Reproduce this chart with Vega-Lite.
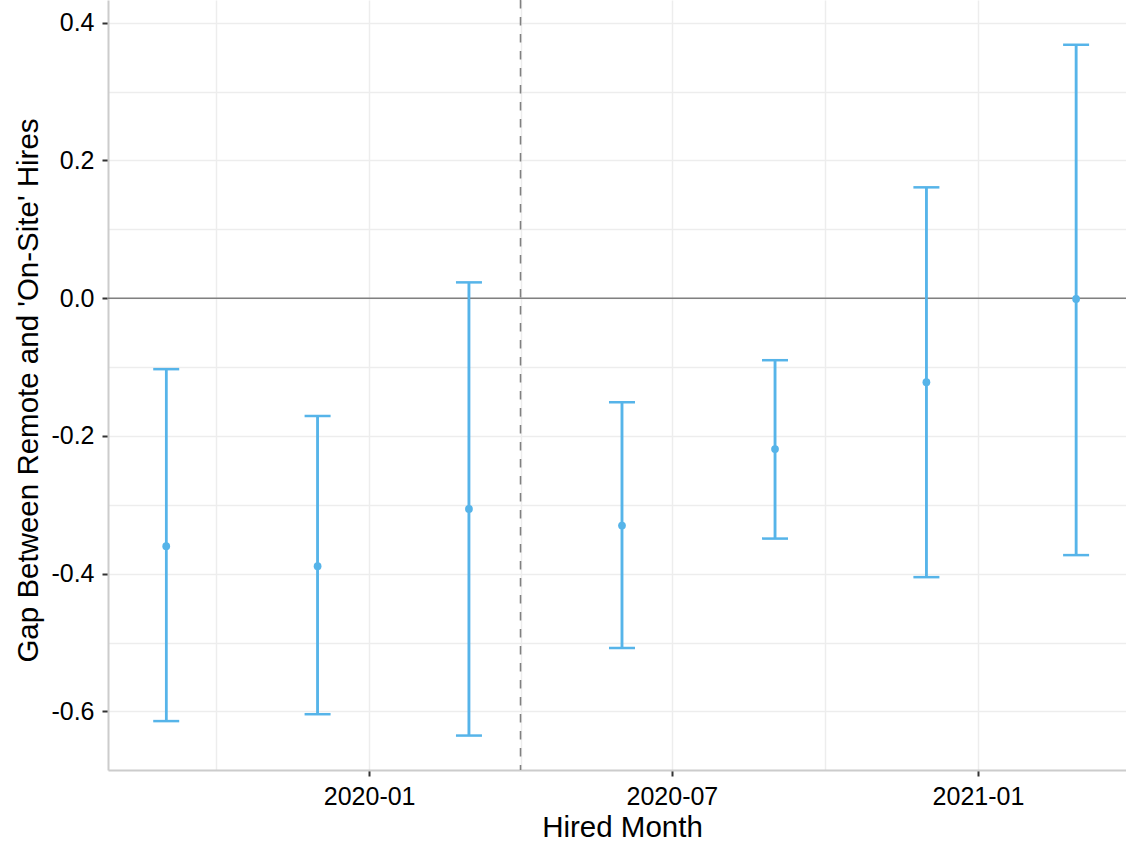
{
  "$schema": "https://vega.github.io/schema/vega-lite/v6.json",
  "width": 1018,
  "height": 770,
  "autosize": {"type": "none"},
  "padding": {"left": 108, "top": 0, "right": 0, "bottom": 71},
  "background": "white",
  "config": {"view": {"stroke": null}, "font": "Liberation Sans"},
  "datasets": {
    "est": [
      {"date": "2019-09-01", "est": -0.360, "lo": -0.614, "hi": -0.103},
      {"date": "2019-12-01", "est": -0.389, "lo": -0.604, "hi": -0.171},
      {"date": "2020-03-01", "est": -0.306, "lo": -0.635, "hi": 0.023},
      {"date": "2020-06-01", "est": -0.330, "lo": -0.508, "hi": -0.151},
      {"date": "2020-09-01", "est": -0.219, "lo": -0.349, "hi": -0.090},
      {"date": "2020-12-01", "est": -0.122, "lo": -0.405, "hi": 0.161},
      {"date": "2021-03-01", "est": -0.001, "lo": -0.373, "hi": 0.368}
    ],
    "refy": [{"est": 0}],
    "refx": [{"date": "2020-04-01"}]
  },
  "layer": [
    {
      "data": {"name": "est"},
      "mark": {"type": "rule", "color": "#56B4E9", "strokeWidth": 2.5},
      "encoding": {
        "x": {
          "field": "date", "type": "temporal", "title": "Hired Month",
          "scale": {"type": "utc", "domain": [{"year": 2019, "month": 7, "date": 28, "utc": true}, {"year": 2021, "month": 3, "date": 31, "utc": true}]},
          "axis": {
            "title": "Hired Month",
            "values": [
              {"year": 2019, "month": 10, "date": 1, "utc": true},
              {"year": 2020, "month": 1, "date": 1, "utc": true},
              {"year": 2020, "month": 4, "date": 1, "utc": true},
              {"year": 2020, "month": 7, "date": 1, "utc": true},
              {"year": 2020, "month": 10, "date": 1, "utc": true},
              {"year": 2021, "month": 1, "date": 1, "utc": true}
            ],
            "labelExpr": "utcmonth(datum.value) % 6 == 0 ? utcFormat(datum.value, '%Y-%m') : ''",
            "grid": true, "gridColor": "#ededed", "gridWidth": 1.5,
            "domainColor": "#cccccc", "domainWidth": 2,
            "tickColor": "#333333", "tickWidth": 2, "tickSize": 6,
            "tickOpacity": {"condition": {"test": "utcmonth(datum.value) % 6 != 0", "value": 0}, "value": 1},
            "labelFont": "Liberation Sans", "labelFontSize": 25, "labelColor": "#000000",
            "labelBaseline": "alphabetic", "labelPadding": 28, "labelAngle": 0,
            "labelFlush": false, "labelOverlap": false,
            "titleFont": "Liberation Sans", "titleFontSize": 29.5, "titleFontWeight": "normal", "titleColor": "#000000",
            "titleX": 514, "titleY": 66, "titleBaseline": "alphabetic"
          }
        },
        "y": {
          "field": "lo", "type": "quantitative", "title": "Gap Between Remote and 'On-Site' Hires",
          "scale": {"domain": [-0.685, 0.433], "nice": false, "zero": false},
          "axis": {
            "title": "Gap Between Remote and 'On-Site' Hires",
            "values": [-0.6, -0.5, -0.4, -0.3, -0.2, -0.1, 0, 0.1, 0.2, 0.3, 0.4],
            "labelExpr": "abs(round(datum.value * 10)) % 2 == 1 ? '' : (datum.value < -0.001 ? '-' + format(-datum.value, '.1f') : format(abs(datum.value), '.1f'))",
            "grid": true, "gridColor": "#ededed", "gridWidth": 1.5,
            "domainColor": "#cccccc", "domainWidth": 2,
            "tickColor": "#333333", "tickWidth": 2, "tickSize": 6,
            "tickOpacity": {"condition": {"test": "abs(round(datum.value * 10)) % 2 == 1", "value": 0}, "value": 1},
            "labelFont": "Liberation Sans", "labelFontSize": 25, "labelColor": "#000000",
            "labelPadding": 8, "labelFlush": false, "labelOverlap": false,
            "titleFont": "Liberation Sans", "titleFontSize": 29.5, "titleFontWeight": "normal", "titleColor": "#000000",
            "titleX": -71, "titleY": 390, "titleBaseline": "alphabetic", "titleAngle": -90
          }
        },
        "y2": {"field": "hi"}
      }
    },
    {
      "data": {"name": "refy"},
      "mark": {"type": "rule", "color": "#808080", "strokeWidth": 1.6},
      "encoding": {
        "y": {"field": "est", "type": "quantitative", "title": "Gap Between Remote and 'On-Site' Hires", "scale": {"domain": [-0.685, 0.433], "nice": false, "zero": false}}
      }
    },
    {
      "data": {"name": "refx"},
      "mark": {"type": "rule", "color": "#808080", "strokeWidth": 1.6, "strokeDash": [8.5, 8.5]},
      "encoding": {
        "x": {"field": "date", "type": "temporal", "title": "Hired Month", "scale": {"type": "utc", "domain": [{"year": 2019, "month": 7, "date": 28, "utc": true}, {"year": 2021, "month": 3, "date": 31, "utc": true}]}}
      }
    },
    {
      "data": {"name": "est"},
      "mark": {"type": "rule", "color": "#56B4E9", "strokeWidth": 2.5},
      "encoding": {
        "x": {"field": "date", "type": "temporal", "title": "Hired Month", "scale": {"type": "utc", "domain": [{"year": 2019, "month": 7, "date": 28, "utc": true}, {"year": 2021, "month": 3, "date": 31, "utc": true}]}},
        "y": {"field": "lo", "type": "quantitative", "title": "Gap Between Remote and 'On-Site' Hires", "scale": {"domain": [-0.685, 0.433], "nice": false, "zero": false}},
        "y2": {"field": "hi"}
      }
    },
    {
      "data": {"name": "est"},
      "mark": {"type": "tick", "orient": "horizontal", "color": "#56B4E9", "size": 26, "thickness": 2.5, "opacity": 1},
      "encoding": {
        "x": {"field": "date", "type": "temporal", "title": "Hired Month", "scale": {"type": "utc", "domain": [{"year": 2019, "month": 7, "date": 28, "utc": true}, {"year": 2021, "month": 3, "date": 31, "utc": true}]}},
        "y": {"field": "lo", "type": "quantitative", "title": "Gap Between Remote and 'On-Site' Hires", "scale": {"domain": [-0.685, 0.433], "nice": false, "zero": false}}
      }
    },
    {
      "data": {"name": "est"},
      "mark": {"type": "tick", "orient": "horizontal", "color": "#56B4E9", "size": 26, "thickness": 2.5, "opacity": 1},
      "encoding": {
        "x": {"field": "date", "type": "temporal", "title": "Hired Month", "scale": {"type": "utc", "domain": [{"year": 2019, "month": 7, "date": 28, "utc": true}, {"year": 2021, "month": 3, "date": 31, "utc": true}]}},
        "y": {"field": "hi", "type": "quantitative", "title": "Gap Between Remote and 'On-Site' Hires", "scale": {"domain": [-0.685, 0.433], "nice": false, "zero": false}}
      }
    },
    {
      "data": {"name": "est"},
      "mark": {"type": "circle", "color": "#56B4E9", "size": 60, "opacity": 1},
      "encoding": {
        "x": {"field": "date", "type": "temporal", "title": "Hired Month", "scale": {"type": "utc", "domain": [{"year": 2019, "month": 7, "date": 28, "utc": true}, {"year": 2021, "month": 3, "date": 31, "utc": true}]}},
        "y": {"field": "est", "type": "quantitative", "title": "Gap Between Remote and 'On-Site' Hires", "scale": {"domain": [-0.685, 0.433], "nice": false, "zero": false}}
      }
    }
  ]
}
